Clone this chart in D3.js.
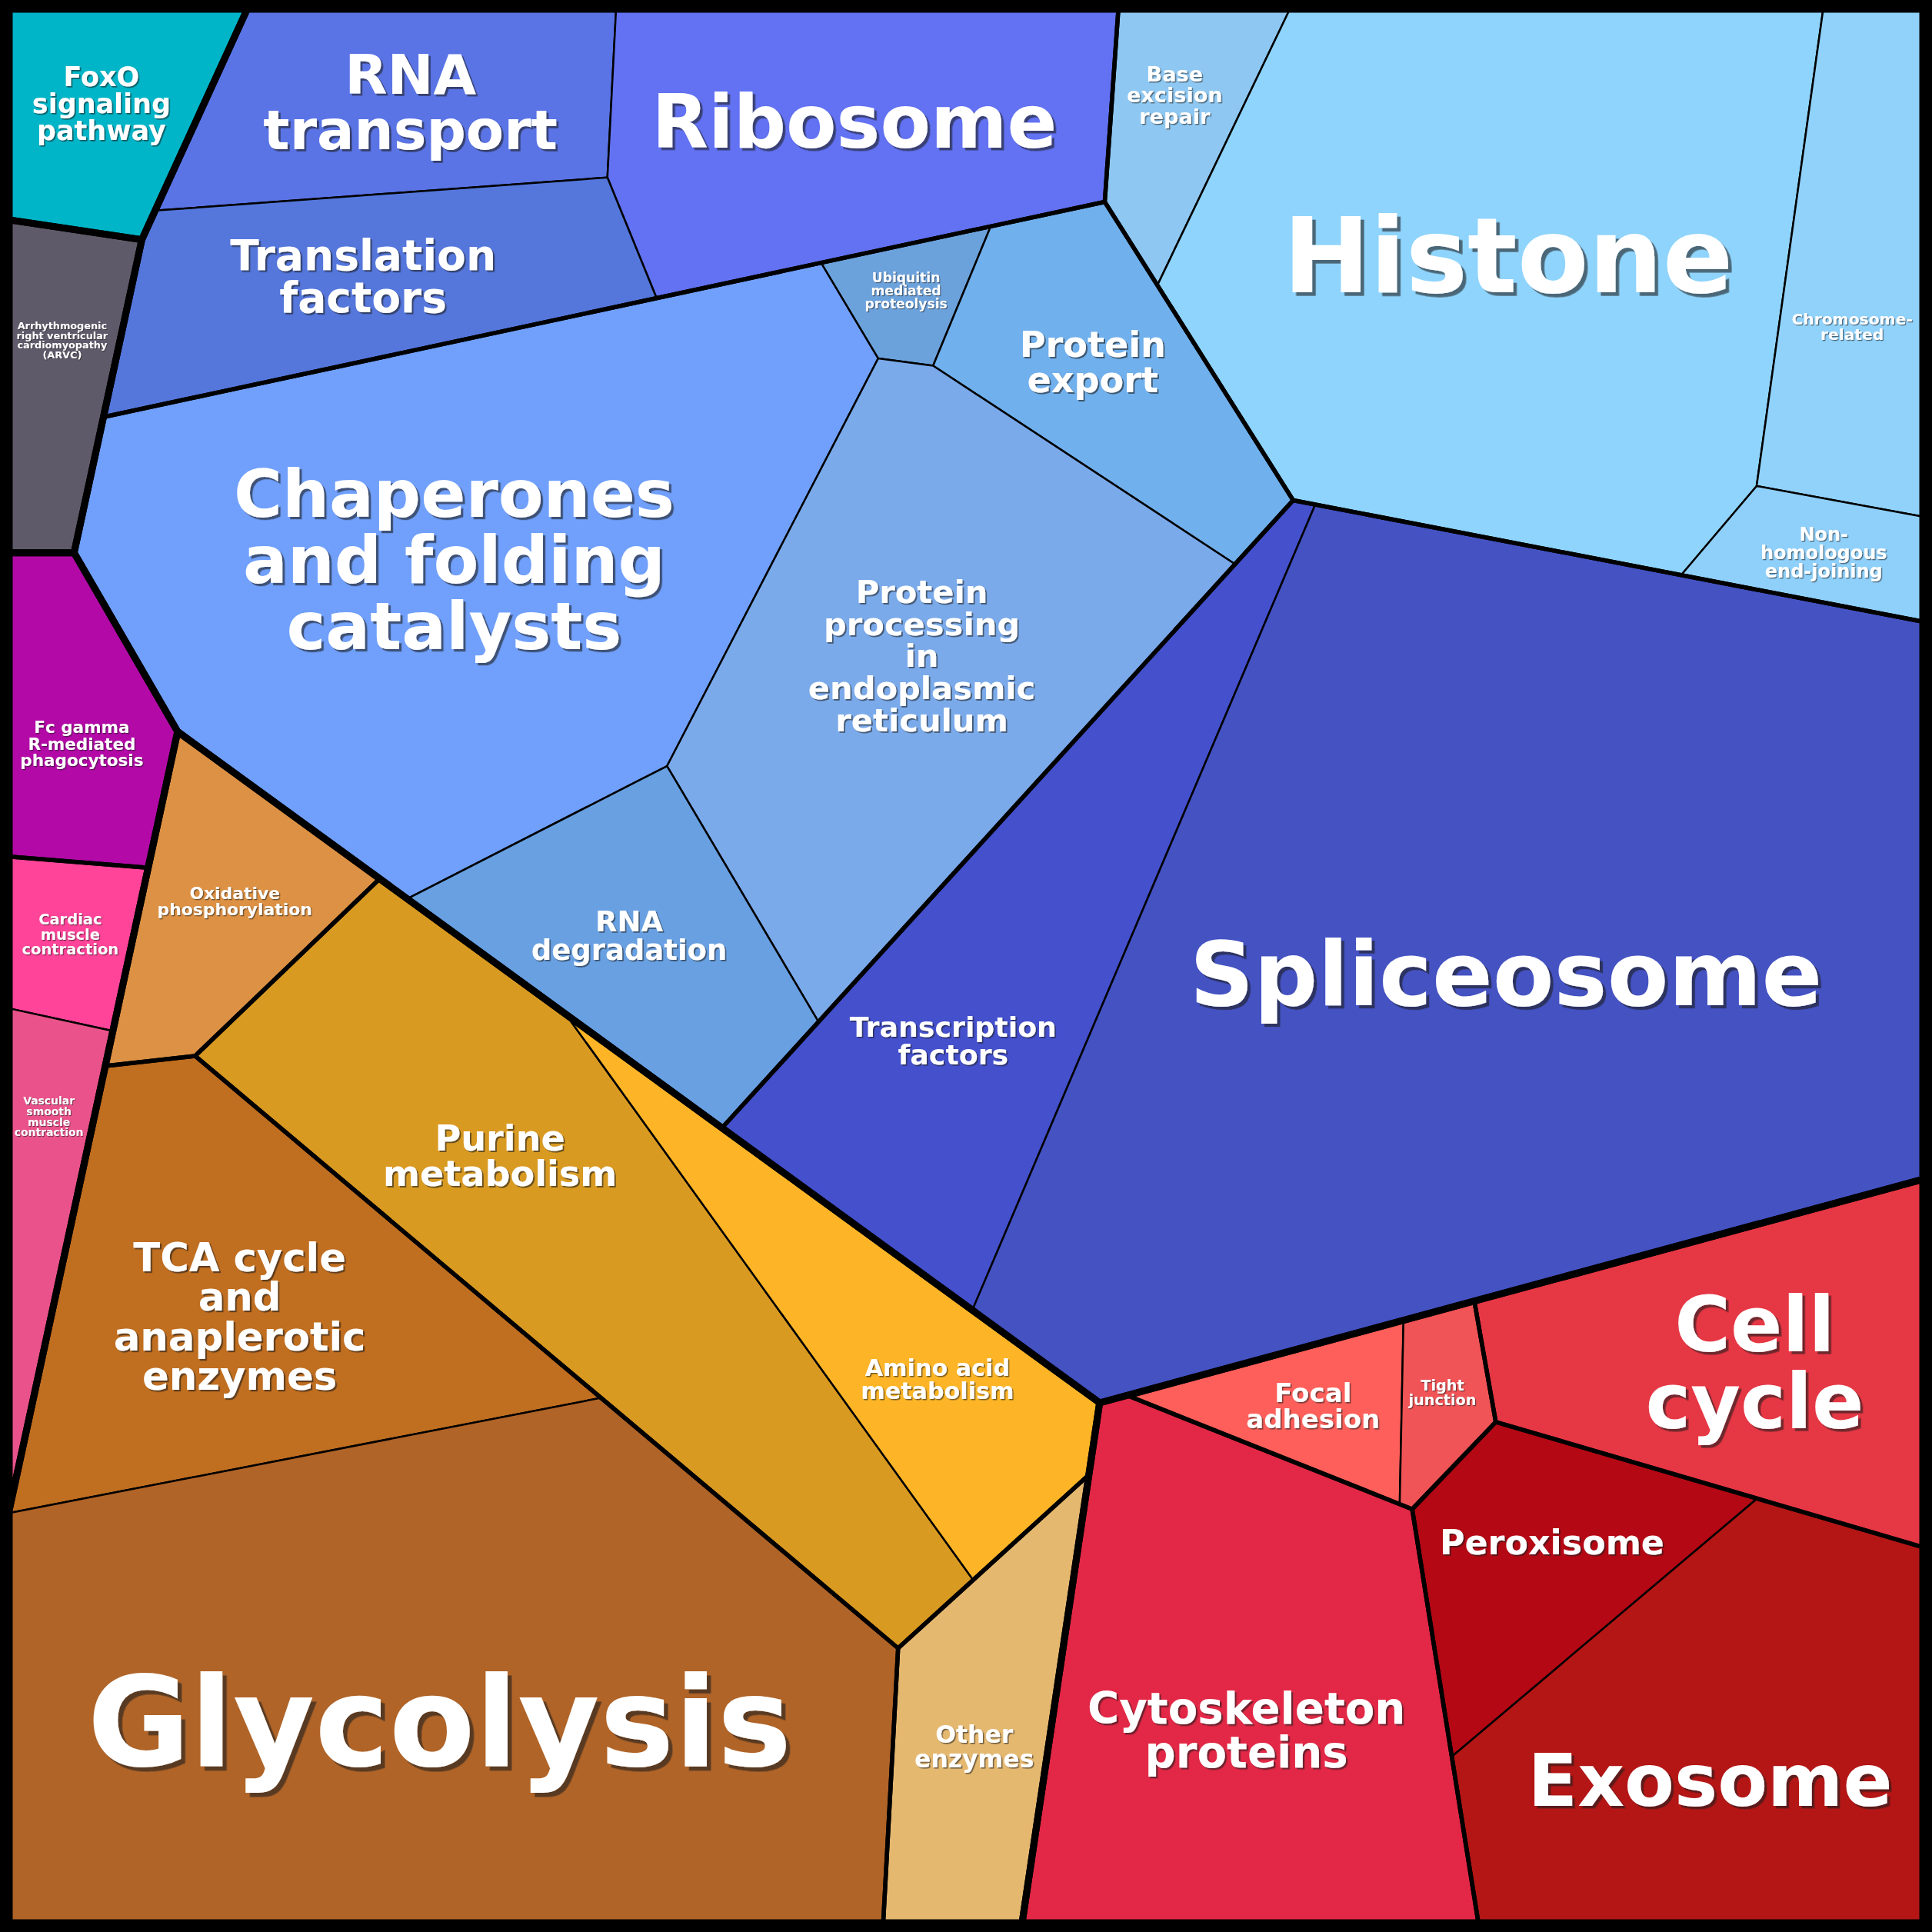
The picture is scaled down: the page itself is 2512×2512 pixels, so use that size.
<!DOCTYPE html>
<html>
<head>
<meta charset="utf-8">
<script src="https://cdn.jsdelivr.net/npm/d3@7"></script>
<style>
  body { margin: 0; background: #000; }
  svg { display: block; }
</style>
</head>
<body>
<svg id="chart" width="2512" height="2512"></svg>
<script>
  // top level categories
  var groups = ["Genetic Information Processing", "Metabolism", "Cellular Processes",
    "Environmental Information Processing", "Human Diseases", "Organismal Systems"];

  // second level, with the group each one belongs to
  var subgroups = ["Translation", "Folding, sorting and degradation", "Transcription", "Replication and repair",
    "Energy metabolism", "Central carbon metabolism", "Nucleotide and amino acid metabolism", "Miscellaneous enzymes",
    "Cell motility", "Cellular community", "Cell growth and death", "Transport and catabolism",
    "Signal transduction", "Cardiovascular diseases", "Immune system", "Circulatory system"];
  var subgroupParent = ["Genetic Information Processing", "Genetic Information Processing", "Genetic Information Processing", "Genetic Information Processing",
    "Metabolism", "Metabolism", "Metabolism", "Metabolism",
    "Cellular Processes", "Cellular Processes", "Cellular Processes", "Cellular Processes",
    "Environmental Information Processing", "Human Diseases", "Organismal Systems", "Organismal Systems"];

  // pathways (leaves) and their share of the proteome (per mille)
  var pathways = ["FoxO signaling pathway", "Arrhythmogenic right ventricular cardiomyopathy (ARVC)",
    "Fc gamma R-mediated phagocytosis", "Cardiac muscle contraction", "Vascular smooth muscle contraction",
    "RNA transport", "Ribosome", "Translation factors", "Chaperones and folding catalysts",
    "Ubiquitin mediated proteolysis", "Protein export", "Protein processing in endoplasmic reticulum",
    "RNA degradation", "Transcription factors", "Spliceosome",
    "Base excision repair", "Histone", "Chromosome-related", "Non-homologous end-joining",
    "Oxidative phosphorylation", "Purine metabolism", "Amino acid metabolism",
    "TCA cycle and anaplerotic enzymes", "Glycolysis", "Other enzymes",
    "Focal adhesion", "Tight junction", "Cell cycle", "Peroxisome", "Exosome", "Cytoskeleton proteins"];
  var pathwayValues = [11.3, 8.8, 11.2, 5.3, 7.1,
    20.5, 32.7, 22.6, 85.4, 3.6, 17.4, 51.0, 19.4, 38.3, 159.0,
    8.0, 80.3, 18.0, 5.8,
    12.6, 51.5, 20.6, 39.4, 107.4, 15.3,
    6.9, 3.8, 29.2, 15.7, 42.1, 49.8];
  var pathwaySubgroup = ["Signal transduction", "Cardiovascular diseases", "Immune system", "Circulatory system", "Circulatory system",
    "Translation", "Translation", "Translation", "Folding, sorting and degradation",
    "Folding, sorting and degradation", "Folding, sorting and degradation", "Folding, sorting and degradation",
    "Folding, sorting and degradation", "Transcription", "Transcription",
    "Replication and repair", "Replication and repair", "Replication and repair", "Replication and repair",
    "Energy metabolism", "Nucleotide and amino acid metabolism", "Nucleotide and amino acid metabolism",
    "Central carbon metabolism", "Central carbon metabolism", "Miscellaneous enzymes",
    "Cellular community", "Cellular community", "Cell growth and death", "Transport and catabolism", "Transport and catabolism", "Cell motility"];
  // label line breaks
  var pathwayLabels = ["FoxO|signaling|pathway", "Arrhythmogenic|right ventricular|cardiomyopathy|(ARVC)",
    "Fc gamma|R-mediated|phagocytosis", "Cardiac|muscle|contraction", "Vascular|smooth|muscle|contraction",
    "RNA|transport", "Ribosome", "Translation|factors", "Chaperones|and folding|catalysts",
    "Ubiquitin|mediated|proteolysis", "Protein|export", "Protein|processing|in|endoplasmic|reticulum",
    "RNA|degradation", "Transcription|factors", "Spliceosome",
    "Base|excision|repair", "Histone", "Chromosome-|related", "Non-|homologous|end-joining",
    "Oxidative|phosphorylation", "Purine|metabolism", "Amino acid|metabolism",
    "TCA cycle|and|anaplerotic|enzymes", "Glycolysis", "Other|enzymes",
    "Focal|adhesion", "Tight|junction", "Cell|cycle", "Peroxisome", "Exosome", "Cytoskeleton|proteins"];

  // colours, one per pathway
  var pathwayColors = ["#00b5c8", "#5f5a6a", "#b30aa7", "#ff4499", "#e9528a",
    "#5a74e5", "#6272f2", "#5577dc", "#70a0fb", "#6ca2dc", "#70b0ec", "#7aaaea", "#68a0e2", "#4450cc", "#4452c2",
    "#8ec8f2", "#8fd4fc", "#91d2fb", "#8fd0fa",
    "#dc9144", "#d99a22", "#fdb527", "#c06e20", "#b06428", "#e5b870",
    "#ff5f5a", "#f05456", "#e63744", "#b40814", "#b41616", "#e22846"];

  // layout hints: power diagram sites, as fractions of the square (may lie outside it)
  var groupSites = [[0.5727, 0.3327], [0.2574, 0.7658], [0.7085, 0.8330],
    [-0.0367, 0.0541], [-0.0579, 0.1963], [-0.0579, 0.6976]];
  var subgroupSites = [[0.3076, 0.0824], [0.3571, 0.3127], [0.5985, 0.5324], [0.6802, 0.1087],
    [0.1555, 0.4380], [0.1988, 0.8275], [0.3533, 0.6441], [0.5367, 0.8458],
    [0.6422, 0.9163], [0.7122, 0.7409], [0.9107, 0.7057], [0.8591, 0.8816],
    [0.057, 0.050], [0.031, 0.189], [0.0393, 0.3687], [0.0242, 0.5578]];
  var pathwaySites = [[0.057, 0.050], [0.031, 0.189], [0.039, 0.369], [0.032, 0.486], [0.004, 0.614],
    [0.2143, 0.0438], [0.4378, 0.0553], [0.2216, 0.1435], [0.2336, 0.2529], [0.5051, 0.0908], [0.6216, 0.1390],
    [0.4672, 0.3739], [0.3353, 0.4520], [0.5103, 0.4138], [0.7748, 0.5264],
    [0.6116, 0.0519], [0.7838, 0.1345], [0.9651, 0.1598], [0.9446, 0.2708],
    [0.102, 0.475], [0.2967, 0.6712], [0.4871, 0.5341], [0.1242, 0.6795], [0.1634, 0.8810], [0.504, 0.909],
    [0.6795, 0.7310], [0.7476, 0.7324], [0.906, 0.716], [0.7999, 0.8031], [0.8802, 0.8981], [0.645, 0.884]];

  var size = 2512, inset = 12;
  var svg = d3.select("#chart");
  var toPx = function(s) { return [inset + s[0] * (size - 2 * inset), inset + s[1] * (size - 2 * inset)]; };

  // ---- hierarchy ----
  var tree = { name: "root", children: groups.map(function(g, i) { return { name: g, site: toPx(groupSites[i]), children: [] }; }) };
  var subIndex = {};
  subgroups.forEach(function(s, i) {
    var node = { name: s, site: toPx(subgroupSites[i]), children: [] };
    subIndex[s] = node;
    tree.children.find(function(g) { return g.name === subgroupParent[i]; }).children.push(node);
  });
  pathways.forEach(function(p, i) {
    subIndex[pathwaySubgroup[i]].children.push({
      name: p, value: pathwayValues[i], color: pathwayColors[i],
      label: pathwayLabels[i].split("|"), site: toPx(pathwaySites[i])
    });
  });
  var root = d3.hierarchy(tree).sum(function(d) { return d.value || 0; });

  // ---- power diagram helpers ----
  // keep the part of poly where a*x + b*y <= c
  function clip(poly, a, b, c) {
    var out = [];
    for (var i = 0; i < poly.length; i++) {
      var p = poly[i], q = poly[(i + 1) % poly.length];
      var fp = a * p[0] + b * p[1] - c, fq = a * q[0] + b * q[1] - c;
      if (fp <= 0) out.push(p);
      if ((fp < 0 && fq > 0) || (fp > 0 && fq < 0)) {
        var t = fp / (fp - fq);
        out.push([p[0] + t * (q[0] - p[0]), p[1] + t * (q[1] - p[1])]);
      }
    }
    return out;
  }

  function powerCell(i, sites, w, bound) {
    var poly = bound, xi = sites[i][0], yi = sites[i][1];
    for (var j = 0; j < sites.length; j++) {
      if (j === i) continue;
      var xj = sites[j][0], yj = sites[j][1];
      poly = clip(poly, 2 * (xj - xi), 2 * (yj - yi),
        xj * xj + yj * yj - xi * xi - yi * yi - w[j] + w[i]);
      if (poly.length < 3) return [];
    }
    return poly;
  }

  function area(poly) { return poly.length < 3 ? 0 : Math.abs(d3.polygonArea(poly)); }

  // adapt the weights until every cell has its target area
  function powerCells(sites, targets, bound) {
    var n = sites.length, w = sites.map(function() { return 0; });
    var eps = area(bound) * 1e-5;
    for (var it = 0; it < 3000; it++) {
      var steps = [], worst = 0;
      for (var i = 0; i < n; i++) {
        var a0 = area(powerCell(i, sites, w, bound));
        w[i] += eps;
        var a1 = area(powerCell(i, sites, w, bound));
        w[i] -= eps;
        var err = targets[i] - a0;
        worst = Math.max(worst, Math.abs(err) / targets[i]);
        var slope = (a1 - a0) / eps;
        steps.push(slope > 1e-6 ? err / slope : err / 1.5);
      }
      if (worst < 1e-5) break;
      for (var k = 0; k < n; k++) w[k] += 0.5 * steps[k];
    }
    return sites.map(function(s, i) { return powerCell(i, sites, w, bound); });
  }

  function layout(node, poly) {
    node.polygon = poly;
    if (!node.children) return;
    if (node.children.length === 1) { layout(node.children[0], poly); return; }
    var a = area(poly);
    var sites = node.children.map(function(c) { return c.data.site; });
    var targets = node.children.map(function(c) { return a * c.value / node.value; });
    var cells = powerCells(sites, targets, poly);
    node.children.forEach(function(c, i) { layout(c, cells[i]); });
  }

  var frame = [[inset, inset], [size - inset, inset], [size - inset, size - inset], [inset, size - inset]];
  layout(root, frame);

  // ---- drawing ----
  var line = function(p) { return "M" + p.join("L") + "Z"; };

  svg.append("rect").attr("width", size).attr("height", size).attr("fill", "#000");

  svg.append("g").selectAll("path")
    .data(root.leaves())
    .enter().append("path")
      .attr("d", function(d) { return line(d.polygon); })
      .attr("fill", function(d) { return d.data.color; })
      .attr("stroke", "#000")
      .attr("stroke-width", 2.5)
      .attr("stroke-linejoin", "round");

  svg.append("g").selectAll("path")
    .data(root.descendants().filter(function(d) { return d.depth === 2; }))
    .enter().append("path")
      .attr("d", function(d) { return line(d.polygon); })
      .attr("fill", "none")
      .attr("stroke", "#000")
      .attr("stroke-width", 5.5)
      .attr("stroke-linejoin", "round");

  svg.append("g").selectAll("path")
    .data(root.children)
    .enter().append("path")
      .attr("d", function(d) { return line(d.polygon); })
      .attr("fill", "none")
      .attr("stroke", "#000")
      .attr("stroke-width", 9)
      .attr("stroke-linejoin", "round");

  svg.append("rect")
    .attr("x", inset / 2).attr("y", inset / 2)
    .attr("width", size - inset).attr("height", size - inset)
    .attr("fill", "none").attr("stroke", "#000").attr("stroke-width", inset);

  // ---- labels: padded text box, settled in the middle of its free room, pulled toward the centroid ----
  var ctx = document.createElement("canvas").getContext("2d");
  ctx.font = "bold 100px 'DejaVu Sans'";
  var labelFill = 0.82, lineBox = 1.1, keepMargin = 1.15;

  function nearestInside(poly, pt) {
    if (d3.polygonContains(poly, pt)) return pt;
    var best = null, bd = Infinity;
    for (var i = 0; i < poly.length; i++) {
      var p = poly[i], q = poly[(i + 1) % poly.length];
      var dx = q[0] - p[0], dy = q[1] - p[1], l2 = dx * dx + dy * dy;
      var t = l2 > 0 ? Math.max(0, Math.min(1, ((pt[0] - p[0]) * dx + (pt[1] - p[1]) * dy) / l2)) : 0;
      var c = [p[0] + t * dx, p[1] + t * dy];
      var d = Math.hypot(c[0] - pt[0], c[1] - pt[1]);
      if (d < bd) { bd = d; best = c; }
    }
    return best;
  }

  function fitLabel(poly, lines) {
    var wEm = d3.max(lines, function(l) { return ctx.measureText(l).width; }) / 100;
    var hEm = lines.length * lineBox;
    var cen = d3.polygonCentroid(poly);
    var edges = [];
    for (var i = 0; i < poly.length; i++) {
      var p = poly[i], q = poly[(i + 1) % poly.length];
      var dx = q[0] - p[0], dy = q[1] - p[1], len = Math.hypot(dx, dy);
      if (len < 1e-6) continue;
      var nx = -dy / len, ny = dx / len;
      if (nx * (cen[0] - p[0]) + ny * (cen[1] - p[1]) < 0) { nx = -nx; ny = -ny; }
      edges.push({ nx: nx, ny: ny, d: nx * p[0] + ny * p[1], k: Math.abs(nx) * wEm / 2 + Math.abs(ny) * hEm / 2 });
    }
    // centres where a box of font f fits
    function region(f) {
      var r = poly;
      for (var e = 0; e < edges.length; e++) {
        r = clip(r, -edges[e].nx, -edges[e].ny, -(edges[e].d + f * edges[e].k));
        if (r.length < 3) return null;
      }
      return r;
    }
    // largest font for a box centred at c
    function fitAt(c) {
      return d3.min(edges, function(e) { return (e.nx * c[0] + e.ny * c[1] - e.d) / e.k; });
    }
    var c = cen, f = labelFill * Math.max(fitAt(c), 0);
    if (!(f > 0)) {
      var lo = 0, hi = 2000;
      for (var s = 0; s < 40; s++) { var mid = (lo + hi) / 2; if (region(mid)) lo = mid; else hi = mid; }
      f = lo * labelFill * 0.5;
    }
    for (var it = 0; it < 40; it++) {
      var reg = region(f);
      if (!reg) break;
      c = d3.polygonCentroid(reg);
      f = 0.5 * f + 0.5 * labelFill * fitAt(c);
    }
    // pull half way back toward the cell centroid while the padded box still fits
    var target = [(c[0] + cen[0]) / 2, (c[1] + cen[1]) / 2];
    var keep = region(f * keepMargin);
    return { f: f, c: keep ? nearestInside(keep, target) : c };
  }

  var defs = svg.append("defs");
  var labels = svg.append("g")
    .attr("font-family", "'DejaVu Sans', sans-serif")
    .attr("font-weight", "bold")
    .attr("text-anchor", "middle");

  root.leaves().forEach(function(leaf, li) {
    var lines = leaf.data.label;
    var fit = fitLabel(leaf.polygon, lines);
    var f = fit.f, off = 0.6 + f * 0.03;
    defs.append("filter")
      .attr("id", "shadow" + li)
      .attr("x", "-10%").attr("y", "-10%").attr("width", "130%").attr("height", "130%")
      .append("feDropShadow")
        .attr("dx", off).attr("dy", off).attr("stdDeviation", 0)
        .attr("flood-color", "#1a1a1a").attr("flood-opacity", 0.6);
    // first baseline so that the block of lines is centred on the fit point
    var base = fit.c[1] - (lines.length - 1.76) * f / 2;
    var text = labels.append("text")
      .attr("font-size", f)
      .attr("fill", "#fff")
      .attr("filter", "url(#shadow" + li + ")");
    lines.forEach(function(t, i) {
      text.append("tspan")
        .attr("x", fit.c[0])
        .attr("y", base + i * f)
        .text(t);
    });
  });
</script>
</body>
</html>
